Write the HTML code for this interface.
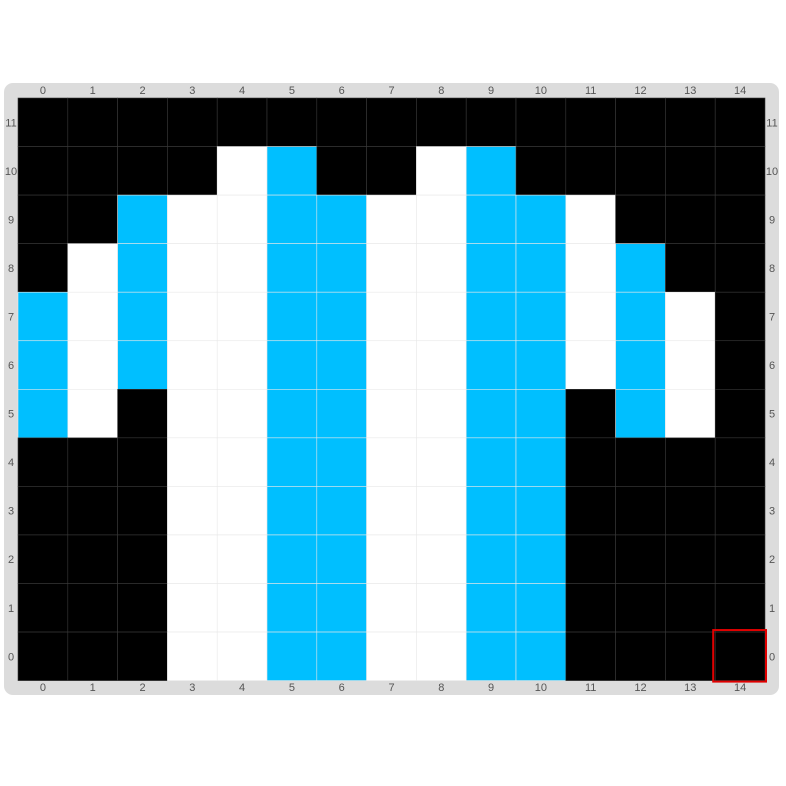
<!DOCTYPE html>
<html><head><meta charset="utf-8"><style>
html,body{margin:0;padding:0;background:#fff;width:786px;height:786px;overflow:hidden}
svg{display:block;font-family:"Liberation Sans",sans-serif}
</style></head><body>
<svg id="chart" width="786" height="786">
<rect x="4" y="83" width="775" height="612" rx="9" fill="#dcdcdc"/>
<g id="cells"></g><g id="labels"></g>
</svg>
<script>
const cols=[0,1,2,3,4,5,6,7,8,9,10,11,12,13,14];
const rowLabels=[11,10,9,8,7,6,5,4,3,2,1,0];
// 0 black, 1 white, 2 cyan; rows top (11) to bottom (0)
const gridValues=[
"000000000000000",
"000012001200000",
"002112211221000",
"012112211221200",
"212112211221210",
"212112211221210",
"210112211220210",
"000112211220000",
"000112211220000",
"000112211220000",
"000112211220000",
"000112211220000"];
const palette=["#000000","#ffffff","#00bfff"];
const selected=[14,0];
const X0=18,Y0=98,CW=49.8,CH=48.55;
const ns="http://www.w3.org/2000/svg";
const cg=document.getElementById('cells'),lg=document.getElementById('labels');
function xs(c){return X0+c*CW}
function ys(r){return Y0+r*CH}
gridValues.forEach((row,ri)=>{
 [...row].forEach((v,ci)=>{
  const r=document.createElementNS(ns,'rect');
  r.setAttribute('x',xs(ci));r.setAttribute('y',ys(ri));
  r.setAttribute('width',CW);r.setAttribute('height',CH);
  r.setAttribute('fill',palette[+v]);
  r.setAttribute('stroke',v==='0'?'#3a3a3a':'#e8e8e8');r.setAttribute('stroke-width','0.6');
  
  
  cg.appendChild(r);
 });
});
function txt(x,y,s,name){
 const t=document.createElementNS(ns,'text');
 t.setAttribute('x',x);t.setAttribute('y',y);t.setAttribute('font-size','11');
 t.setAttribute('fill','#555');t.setAttribute('text-anchor','middle');
 t.textContent=s;
 
 
 lg.appendChild(t);
}
cols.forEach((c,i)=>{txt(xs(i)+CW/2,94,c,'top-col-label');txt(xs(i)+CW/2,691,c,'bottom-col-label');});
rowLabels.forEach((r,i)=>{txt(11,ys(i)+CH/2+4,r,'left-row-label');txt(772,ys(i)+CH/2+4,r,'right-row-label');});
const sel=document.createElementNS(ns,'rect');
sel.setAttribute('x',xs(cols.indexOf(selected[0]))-2);
sel.setAttribute('y',ys(rowLabels.indexOf(selected[1]))-2);
sel.setAttribute('width',CW+3);sel.setAttribute('height',CH+3);
sel.setAttribute('fill','none');sel.setAttribute('stroke','#e00000');sel.setAttribute('stroke-width','2');


cg.appendChild(sel);
</script>
</body></html>
